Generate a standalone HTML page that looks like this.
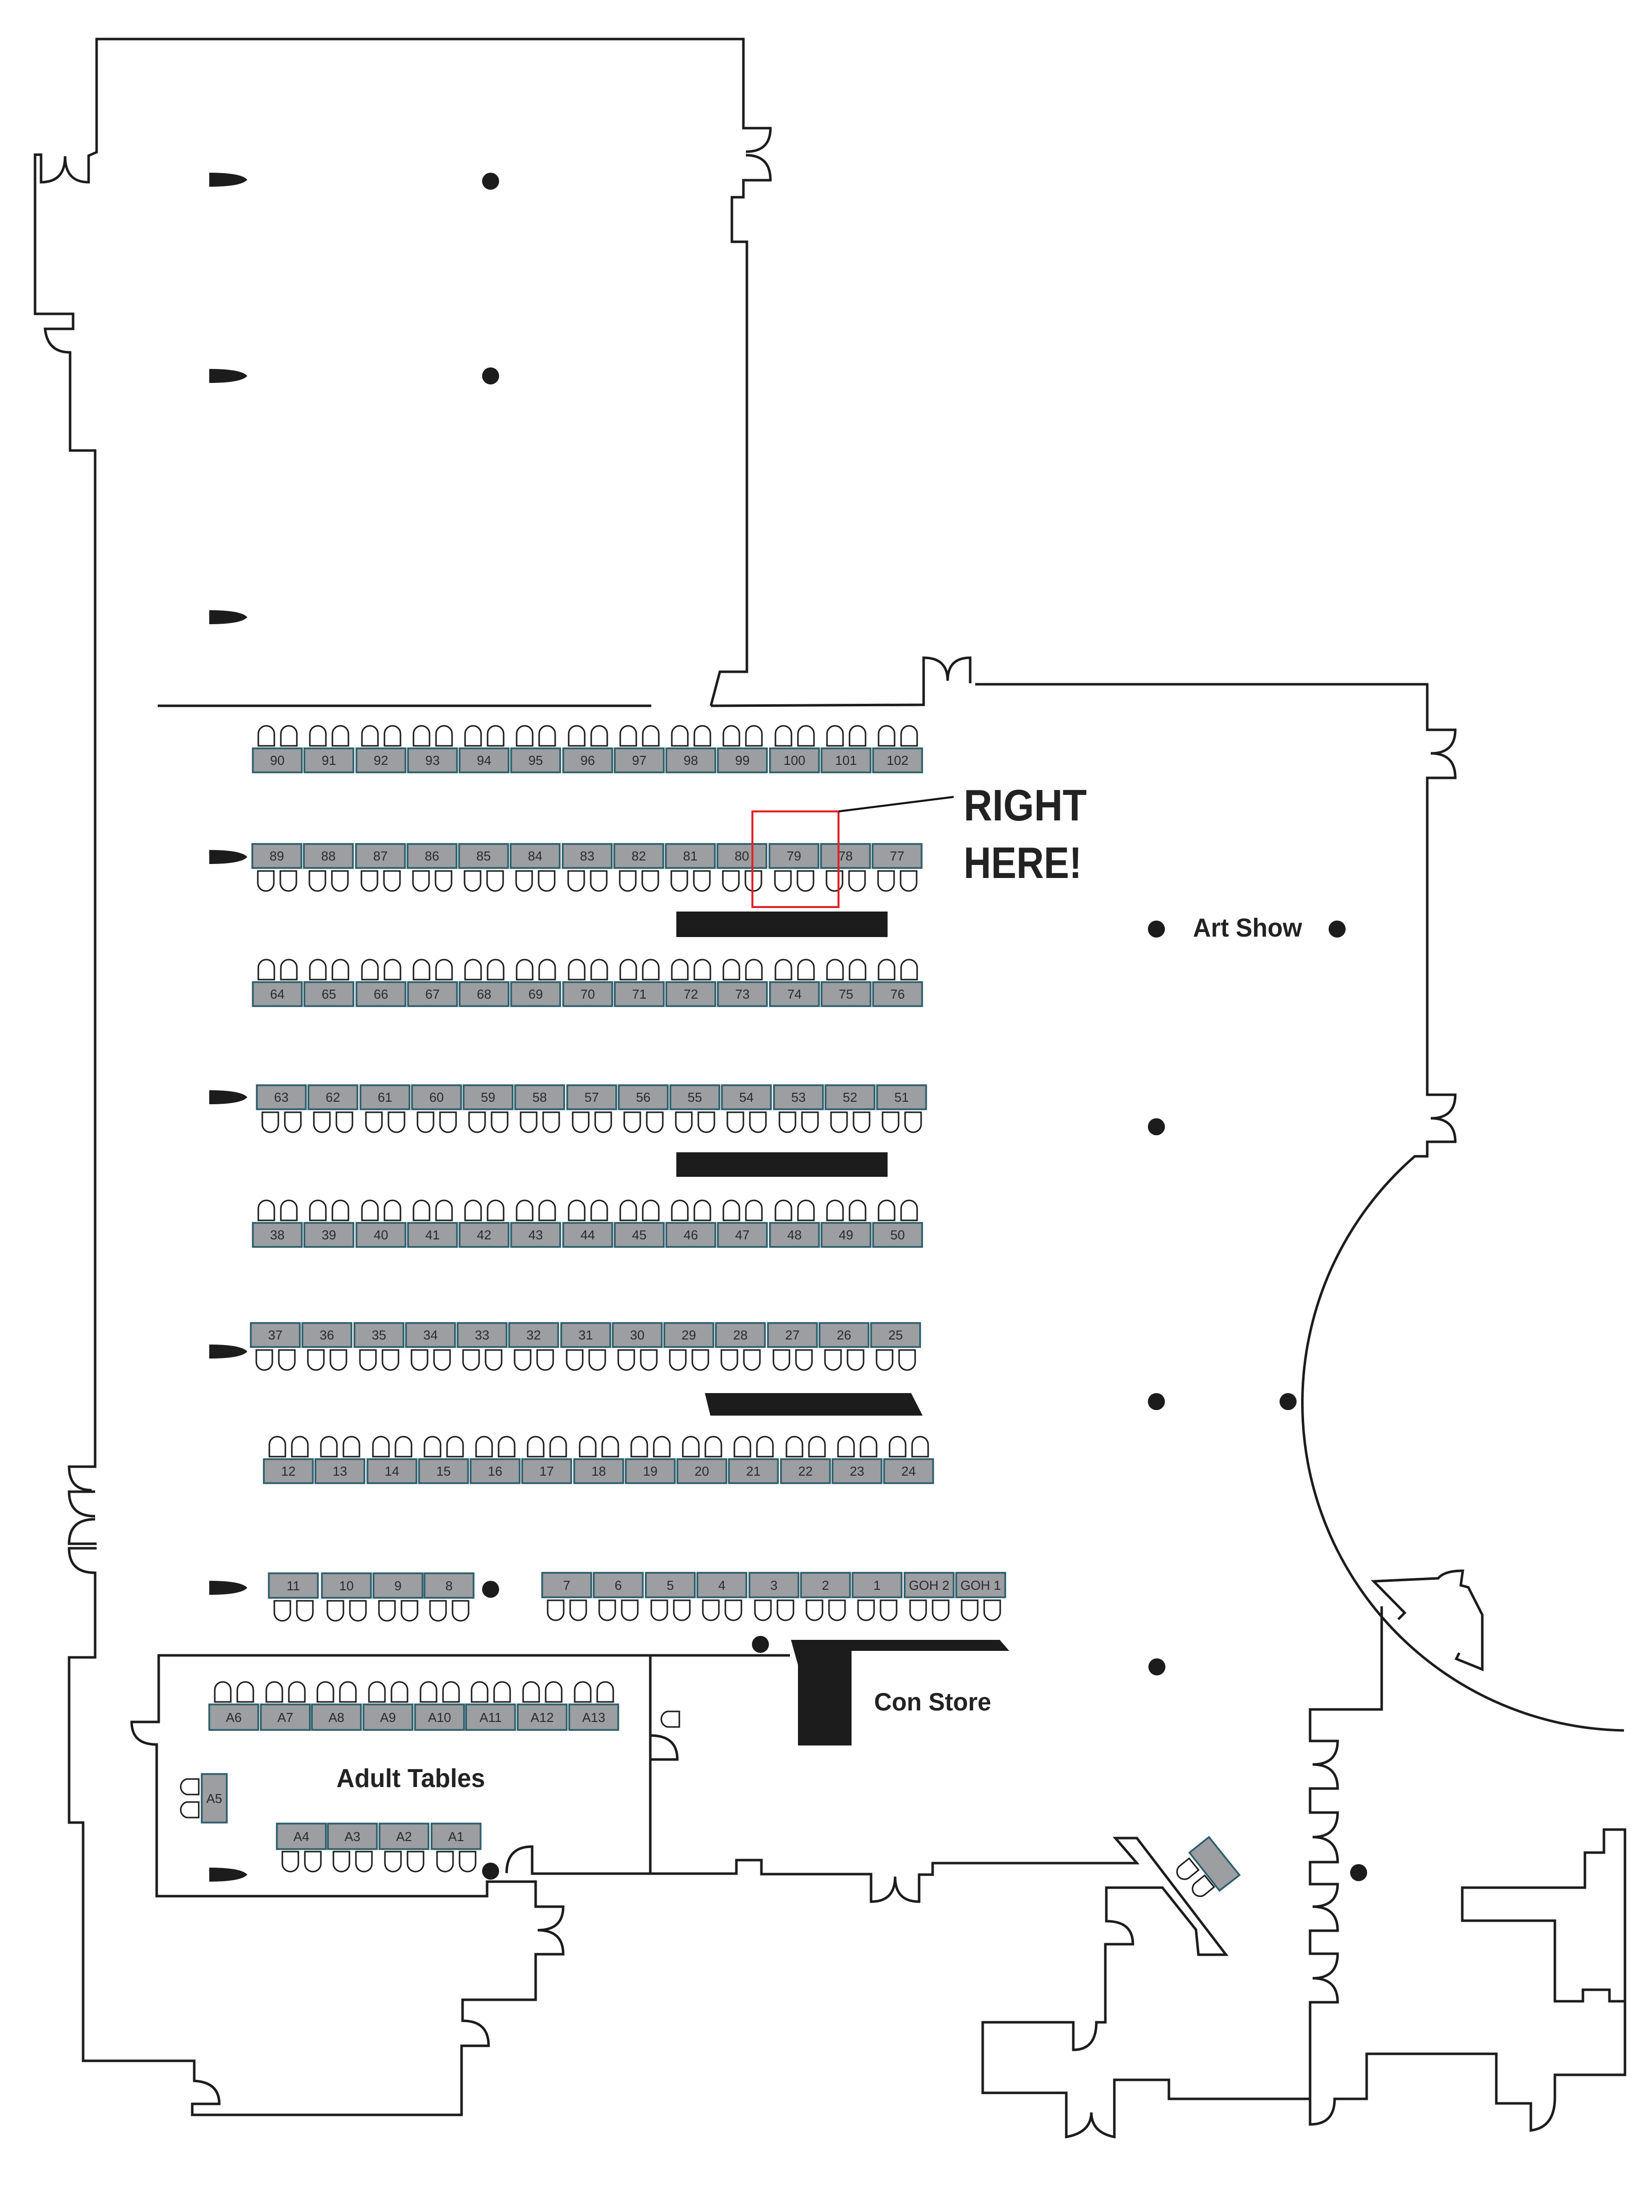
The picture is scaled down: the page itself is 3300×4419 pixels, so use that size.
<!DOCTYPE html>
<html><head><meta charset="utf-8"><style>
html,body{margin:0;padding:0;background:#fff}
svg{display:block}
.w{fill:none;stroke:#1c1c1c;stroke-width:5;stroke-linejoin:miter}
.t rect{fill:#9c9ea1;stroke:#2d5e6b;stroke-width:3.5}
.t text{font-family:"Liberation Sans",sans-serif;font-size:26px;fill:#2b2b2b;text-anchor:middle}
.c{fill:#fff;stroke:#1c1c1c;stroke-width:3}
.lbl{font-family:"Liberation Sans",sans-serif;font-weight:bold;fill:#222}
</style></head><body>
<svg width="3300" height="4419" viewBox="0 0 3300 4419" xmlns="http://www.w3.org/2000/svg">
<defs>
<g id="cu"><path class="c" d="M0,40 L0,16 A16,16 0 0 1 32,16 L32,40 Z"/><path class="c" d="M45,40 L45,16 A16,16 0 0 1 77,16 L77,40 Z"/></g>
<g id="cd"><path class="c" d="M0,0 L0,24 A16,16 0 0 0 32,24 L32,0 Z"/><path class="c" d="M45,0 L45,24 A16,16 0 0 0 77,24 L77,0 Z"/></g>
<path id="cl" class="c" d="M40,0 L16,0 A16,16 0 0 0 16,31 L40,31 Z"/>
<path id="pil" fill="#1c1c1c" d="M0,-14 C52,-14 70,-7 76,0 C70,7 52,14 0,14 Z"/>
</defs>

<!-- walls -->
<path class="w" d="M1420,1410 L1438,1342 L1492,1342 L1492,483 L1462,483 L1462,394 L1485,394 L1485,360 L1539,360 Q1539,310 1490,310 M1490,303 Q1539,303 1539,256 L1485,256 L1485,78 L193,78 L193,304 L177,311 L177,364 Q130,364 130,312 Q130,364 82,364 L82,309 L70,309 L70,627 L146,627 L146,657 L90,657 Q95,704 140,704 L140,900 L190,900 L190,2930 L138,2930 Q138,2977 183,2977 M190,2980 L138,2980 Q138,3029 190,3029 M190,3035 Q138,3035 138,3084 L193,3084 M193,3093 L138,3093 Q138,3142 190,3142 L190,3311 L138,3311 L138,3641 L166,3641 L166,4117 L388,4117 L388,4157 Q438,4160 438,4203 L384,4203 L384,4225 L922,4225 L922,4087 L976,4087 Q976,4037 924,4037 L924,3995 L1070,3995 L1070,3904 L1125,3904 Q1125,3856 1074,3856 Q1125,3856 1125,3809 L1070,3809 L1070,3759 L973,3759 L973,3788 L313,3788 L313,3485 Q263,3485 263,3440 L317,3440 L317,3307 L1578,3307"/>
<path class="w" d="M1420,1410 L1845,1408 L1845,1314 Q1893,1314 1893,1360 Q1893,1314 1938,1314 L1938,1365 M1948,1367 L2851,1367 L2851,1458 L2907,1458 Q2907,1505 2858,1505 Q2907,1505 2907,1554 L2851,1554 L2851,2187 L2907,2187 Q2907,2234 2858,2234 Q2907,2234 2907,2281 L2851,2281 L2851,2310 L2826,2310 A654,654 0 0 0 3244,3457"/>
<line class="w" x1="315" y1="1410" x2="1301" y2="1410"/>
<!-- adult room right wall + bottom corridor -->
<path class="w" d="M1299,3307 L1299,3743 M1299,3467 Q1353,3467 1353,3515 L1299,3515 M1012,3742 Q1012,3689 1063,3689 L1063,3743 L1471,3743 L1471,3716 L1521,3716 L1521,3744 L1740,3744 L1740,3799 Q1788,3799 1788,3749 Q1788,3799 1836,3799 L1836,3745 L1863,3745 L1863,3722 L2271,3722 L2228,3672 L2271,3672 L2449,3905 L2394,3905 L2389,3855 L2322,3771 L2210,3771 L2210,3838 Q2263,3838 2263,3884 L2208,3884 L2208,4040 L2190,4040 Q2190,4095 2144,4095 L2144,4040 L1963,4040 L1963,4181 L2130,4181 L2130,4269 Q2180,4260 2180,4220 Q2180,4260 2226,4269 L2226,4155 L2335,4155 L2335,4193 L2617,4193"/>
<!-- right lower building -->
<path class="w" d="M2760,3209 L2760,3415 L2617,3415 L2617,3478 L2672,3478 Q2672,3525 2622,3525 Q2672,3525 2672,3573 L2617,3573 L2617,3621 L2672,3621 Q2672,3670 2622,3670 Q2672,3670 2672,3720 L2617,3720 L2617,3764 L2672,3764 Q2672,3809 2622,3809 Q2672,3809 2672,3857 L2617,3857 L2617,3903 L2672,3903 Q2672,3952 2622,3952 Q2672,3952 2672,4000 L2617,4000 L2617,4244 Q2666,4244 2666,4193 L2730,4193 L2730,4103 L2989,4103 L2989,4202 L3058,4202 L3058,4256 Q3106,4250 3106,4190 L3106,4145 L3246,4145 L3246,3655 L3204,3655 L3204,3701 L3166,3701 L3166,3771 L2921,3771 L2921,3837 L3106,3837 L3106,3998 L3162,3998 L3162,3975 L3215,3975 L3215,3998 L3246,3998"/>
<path class="w" d="M2793,3235 L2806,3222 L2744,3159 L2873,3153 Q2885,3138 2922,3138 L2918,3167 L2933,3171 L2961,3226 L2961,3335 L2909,3314 L2915,3302"/>

<!-- pillars -->
<use href="#pil" x="418" y="359"/><use href="#pil" x="418" y="751"/><use href="#pil" x="418" y="1233"/>
<use href="#pil" x="418" y="1712"/><use href="#pil" x="418" y="2192"/><use href="#pil" x="418" y="2700"/>
<use href="#pil" x="418" y="3172"/><use href="#pil" x="418" y="3745"/>
<!-- dots -->
<g fill="#1c1c1c">
<circle cx="980" cy="362" r="17"/><circle cx="980" cy="751" r="17"/>
<circle cx="2310" cy="1856" r="17"/><circle cx="2671" cy="1856" r="17"/>
<circle cx="2310" cy="2251" r="17"/><circle cx="2310" cy="2800" r="17"/><circle cx="2573" cy="2800" r="17"/>
<circle cx="2311" cy="3330" r="17"/><circle cx="980" cy="3175" r="17"/><circle cx="1519" cy="3285" r="17"/>
<circle cx="980" cy="3738" r="17"/><circle cx="2714" cy="3741" r="17"/>
</g>
<!-- black bars -->
<rect x="1351" y="1821" width="422" height="51" fill="#1c1c1c"/>
<rect x="1351" y="2302" width="422" height="49" fill="#1c1c1c"/>
<polygon points="1408,2783 1820,2783 1843,2828 1419,2828" fill="#1c1c1c"/>
<polygon points="1580,3276 1997,3276 2016,3298 1701,3298 1701,3487 1594,3487 1594,3326" fill="#1c1c1c"/>

<!-- Row A 90-102 -->
<g class="t">
<g transform="translate(505,1495)"><rect width="98" height="48"/><text x="49" y="33">90</text></g>
<g transform="translate(608,1495)"><rect width="98" height="48"/><text x="49" y="33">91</text></g>
<g transform="translate(712,1495)"><rect width="98" height="48"/><text x="49" y="33">92</text></g>
<g transform="translate(815,1495)"><rect width="98" height="48"/><text x="49" y="33">93</text></g>
<g transform="translate(918,1495)"><rect width="98" height="48"/><text x="49" y="33">94</text></g>
<g transform="translate(1021,1495)"><rect width="98" height="48"/><text x="49" y="33">95</text></g>
<g transform="translate(1125,1495)"><rect width="98" height="48"/><text x="49" y="33">96</text></g>
<g transform="translate(1228,1495)"><rect width="98" height="48"/><text x="49" y="33">97</text></g>
<g transform="translate(1331,1495)"><rect width="98" height="48"/><text x="49" y="33">98</text></g>
<g transform="translate(1434,1495)"><rect width="98" height="48"/><text x="49" y="33">99</text></g>
<g transform="translate(1538,1495)"><rect width="98" height="48"/><text x="49" y="33">100</text></g>
<g transform="translate(1641,1495)"><rect width="98" height="48"/><text x="49" y="33">101</text></g>
<g transform="translate(1744,1495)"><rect width="98" height="48"/><text x="49" y="33">102</text></g>
</g>
<g>
<use href="#cu" x="516" y="1450"/><use href="#cu" x="619" y="1450"/><use href="#cu" x="723" y="1450"/><use href="#cu" x="826" y="1450"/><use href="#cu" x="929" y="1450"/><use href="#cu" x="1032" y="1450"/><use href="#cu" x="1136" y="1450"/><use href="#cu" x="1239" y="1450"/><use href="#cu" x="1342" y="1450"/><use href="#cu" x="1445" y="1450"/><use href="#cu" x="1549" y="1450"/><use href="#cu" x="1652" y="1450"/><use href="#cu" x="1755" y="1450"/>
</g>

<!-- Row B 89-77 -->
<g class="t">
<g transform="translate(504,1686)"><rect width="98" height="48"/><text x="49" y="33">89</text></g>
<g transform="translate(607,1686)"><rect width="98" height="48"/><text x="49" y="33">88</text></g>
<g transform="translate(711,1686)"><rect width="98" height="48"/><text x="49" y="33">87</text></g>
<g transform="translate(814,1686)"><rect width="98" height="48"/><text x="49" y="33">86</text></g>
<g transform="translate(917,1686)"><rect width="98" height="48"/><text x="49" y="33">85</text></g>
<g transform="translate(1020,1686)"><rect width="98" height="48"/><text x="49" y="33">84</text></g>
<g transform="translate(1124,1686)"><rect width="98" height="48"/><text x="49" y="33">83</text></g>
<g transform="translate(1227,1686)"><rect width="98" height="48"/><text x="49" y="33">82</text></g>
<g transform="translate(1330,1686)"><rect width="98" height="48"/><text x="49" y="33">81</text></g>
<g transform="translate(1433,1686)"><rect width="98" height="48"/><text x="49" y="33">80</text></g>
<g transform="translate(1537,1686)"><rect width="98" height="48"/><text x="49" y="33">79</text></g>
<g transform="translate(1640,1686)"><rect width="98" height="48"/><text x="49" y="33">78</text></g>
<g transform="translate(1743,1686)"><rect width="98" height="48"/><text x="49" y="33">77</text></g>
</g>
<g>
<use href="#cd" x="515" y="1740"/><use href="#cd" x="618" y="1740"/><use href="#cd" x="722" y="1740"/><use href="#cd" x="825" y="1740"/><use href="#cd" x="928" y="1740"/><use href="#cd" x="1031" y="1740"/><use href="#cd" x="1135" y="1740"/><use href="#cd" x="1238" y="1740"/><use href="#cd" x="1341" y="1740"/><use href="#cd" x="1444" y="1740"/><use href="#cd" x="1548" y="1740"/><use href="#cd" x="1651" y="1740"/><use href="#cd" x="1754" y="1740"/>
</g>

<!-- Row C 64-76 -->
<g class="t">
<g transform="translate(505,1962)"><rect width="98" height="48"/><text x="49" y="33">64</text></g>
<g transform="translate(608,1962)"><rect width="98" height="48"/><text x="49" y="33">65</text></g>
<g transform="translate(712,1962)"><rect width="98" height="48"/><text x="49" y="33">66</text></g>
<g transform="translate(815,1962)"><rect width="98" height="48"/><text x="49" y="33">67</text></g>
<g transform="translate(918,1962)"><rect width="98" height="48"/><text x="49" y="33">68</text></g>
<g transform="translate(1021,1962)"><rect width="98" height="48"/><text x="49" y="33">69</text></g>
<g transform="translate(1125,1962)"><rect width="98" height="48"/><text x="49" y="33">70</text></g>
<g transform="translate(1228,1962)"><rect width="98" height="48"/><text x="49" y="33">71</text></g>
<g transform="translate(1331,1962)"><rect width="98" height="48"/><text x="49" y="33">72</text></g>
<g transform="translate(1434,1962)"><rect width="98" height="48"/><text x="49" y="33">73</text></g>
<g transform="translate(1538,1962)"><rect width="98" height="48"/><text x="49" y="33">74</text></g>
<g transform="translate(1641,1962)"><rect width="98" height="48"/><text x="49" y="33">75</text></g>
<g transform="translate(1744,1962)"><rect width="98" height="48"/><text x="49" y="33">76</text></g>
</g>
<g>
<use href="#cu" x="516" y="1917"/><use href="#cu" x="619" y="1917"/><use href="#cu" x="723" y="1917"/><use href="#cu" x="826" y="1917"/><use href="#cu" x="929" y="1917"/><use href="#cu" x="1032" y="1917"/><use href="#cu" x="1136" y="1917"/><use href="#cu" x="1239" y="1917"/><use href="#cu" x="1342" y="1917"/><use href="#cu" x="1445" y="1917"/><use href="#cu" x="1549" y="1917"/><use href="#cu" x="1652" y="1917"/><use href="#cu" x="1755" y="1917"/>
</g>

<!-- Row D 63-51 -->
<g class="t">
<g transform="translate(513,2168)"><rect width="98" height="48"/><text x="49" y="33">63</text></g>
<g transform="translate(616,2168)"><rect width="98" height="48"/><text x="49" y="33">62</text></g>
<g transform="translate(720,2168)"><rect width="98" height="48"/><text x="49" y="33">61</text></g>
<g transform="translate(823,2168)"><rect width="98" height="48"/><text x="49" y="33">60</text></g>
<g transform="translate(926,2168)"><rect width="98" height="48"/><text x="49" y="33">59</text></g>
<g transform="translate(1029,2168)"><rect width="98" height="48"/><text x="49" y="33">58</text></g>
<g transform="translate(1133,2168)"><rect width="98" height="48"/><text x="49" y="33">57</text></g>
<g transform="translate(1236,2168)"><rect width="98" height="48"/><text x="49" y="33">56</text></g>
<g transform="translate(1339,2168)"><rect width="98" height="48"/><text x="49" y="33">55</text></g>
<g transform="translate(1442,2168)"><rect width="98" height="48"/><text x="49" y="33">54</text></g>
<g transform="translate(1546,2168)"><rect width="98" height="48"/><text x="49" y="33">53</text></g>
<g transform="translate(1649,2168)"><rect width="98" height="48"/><text x="49" y="33">52</text></g>
<g transform="translate(1752,2168)"><rect width="98" height="48"/><text x="49" y="33">51</text></g>
</g>
<g>
<use href="#cd" x="524" y="2222"/><use href="#cd" x="627" y="2222"/><use href="#cd" x="731" y="2222"/><use href="#cd" x="834" y="2222"/><use href="#cd" x="937" y="2222"/><use href="#cd" x="1040" y="2222"/><use href="#cd" x="1144" y="2222"/><use href="#cd" x="1247" y="2222"/><use href="#cd" x="1350" y="2222"/><use href="#cd" x="1453" y="2222"/><use href="#cd" x="1557" y="2222"/><use href="#cd" x="1660" y="2222"/><use href="#cd" x="1763" y="2222"/>
</g>

<!-- Row E 38-50 -->
<g class="t">
<g transform="translate(505,2443)"><rect width="98" height="48"/><text x="49" y="33">38</text></g>
<g transform="translate(608,2443)"><rect width="98" height="48"/><text x="49" y="33">39</text></g>
<g transform="translate(712,2443)"><rect width="98" height="48"/><text x="49" y="33">40</text></g>
<g transform="translate(815,2443)"><rect width="98" height="48"/><text x="49" y="33">41</text></g>
<g transform="translate(918,2443)"><rect width="98" height="48"/><text x="49" y="33">42</text></g>
<g transform="translate(1021,2443)"><rect width="98" height="48"/><text x="49" y="33">43</text></g>
<g transform="translate(1125,2443)"><rect width="98" height="48"/><text x="49" y="33">44</text></g>
<g transform="translate(1228,2443)"><rect width="98" height="48"/><text x="49" y="33">45</text></g>
<g transform="translate(1331,2443)"><rect width="98" height="48"/><text x="49" y="33">46</text></g>
<g transform="translate(1434,2443)"><rect width="98" height="48"/><text x="49" y="33">47</text></g>
<g transform="translate(1538,2443)"><rect width="98" height="48"/><text x="49" y="33">48</text></g>
<g transform="translate(1641,2443)"><rect width="98" height="48"/><text x="49" y="33">49</text></g>
<g transform="translate(1744,2443)"><rect width="98" height="48"/><text x="49" y="33">50</text></g>
</g>
<g>
<use href="#cu" x="516" y="2398"/><use href="#cu" x="619" y="2398"/><use href="#cu" x="723" y="2398"/><use href="#cu" x="826" y="2398"/><use href="#cu" x="929" y="2398"/><use href="#cu" x="1032" y="2398"/><use href="#cu" x="1136" y="2398"/><use href="#cu" x="1239" y="2398"/><use href="#cu" x="1342" y="2398"/><use href="#cu" x="1445" y="2398"/><use href="#cu" x="1549" y="2398"/><use href="#cu" x="1652" y="2398"/><use href="#cu" x="1755" y="2398"/>
</g>

<!-- Row F 37-25 -->
<g class="t">
<g transform="translate(501,2643)"><rect width="98" height="48"/><text x="49" y="33">37</text></g>
<g transform="translate(604,2643)"><rect width="98" height="48"/><text x="49" y="33">36</text></g>
<g transform="translate(708,2643)"><rect width="98" height="48"/><text x="49" y="33">35</text></g>
<g transform="translate(811,2643)"><rect width="98" height="48"/><text x="49" y="33">34</text></g>
<g transform="translate(914,2643)"><rect width="98" height="48"/><text x="49" y="33">33</text></g>
<g transform="translate(1017,2643)"><rect width="98" height="48"/><text x="49" y="33">32</text></g>
<g transform="translate(1121,2643)"><rect width="98" height="48"/><text x="49" y="33">31</text></g>
<g transform="translate(1224,2643)"><rect width="98" height="48"/><text x="49" y="33">30</text></g>
<g transform="translate(1327,2643)"><rect width="98" height="48"/><text x="49" y="33">29</text></g>
<g transform="translate(1430,2643)"><rect width="98" height="48"/><text x="49" y="33">28</text></g>
<g transform="translate(1534,2643)"><rect width="98" height="48"/><text x="49" y="33">27</text></g>
<g transform="translate(1637,2643)"><rect width="98" height="48"/><text x="49" y="33">26</text></g>
<g transform="translate(1740,2643)"><rect width="98" height="48"/><text x="49" y="33">25</text></g>
</g>
<g>
<use href="#cd" x="512" y="2697"/><use href="#cd" x="615" y="2697"/><use href="#cd" x="719" y="2697"/><use href="#cd" x="822" y="2697"/><use href="#cd" x="925" y="2697"/><use href="#cd" x="1028" y="2697"/><use href="#cd" x="1132" y="2697"/><use href="#cd" x="1235" y="2697"/><use href="#cd" x="1338" y="2697"/><use href="#cd" x="1441" y="2697"/><use href="#cd" x="1545" y="2697"/><use href="#cd" x="1648" y="2697"/><use href="#cd" x="1751" y="2697"/>
</g>

<!-- Row G 12-24 -->
<g class="t">
<g transform="translate(527,2915)"><rect width="98" height="48"/><text x="49" y="33">12</text></g>
<g transform="translate(630,2915)"><rect width="98" height="48"/><text x="49" y="33">13</text></g>
<g transform="translate(734,2915)"><rect width="98" height="48"/><text x="49" y="33">14</text></g>
<g transform="translate(837,2915)"><rect width="98" height="48"/><text x="49" y="33">15</text></g>
<g transform="translate(940,2915)"><rect width="98" height="48"/><text x="49" y="33">16</text></g>
<g transform="translate(1043,2915)"><rect width="98" height="48"/><text x="49" y="33">17</text></g>
<g transform="translate(1147,2915)"><rect width="98" height="48"/><text x="49" y="33">18</text></g>
<g transform="translate(1250,2915)"><rect width="98" height="48"/><text x="49" y="33">19</text></g>
<g transform="translate(1353,2915)"><rect width="98" height="48"/><text x="49" y="33">20</text></g>
<g transform="translate(1456,2915)"><rect width="98" height="48"/><text x="49" y="33">21</text></g>
<g transform="translate(1560,2915)"><rect width="98" height="48"/><text x="49" y="33">22</text></g>
<g transform="translate(1663,2915)"><rect width="98" height="48"/><text x="49" y="33">23</text></g>
<g transform="translate(1766,2915)"><rect width="98" height="48"/><text x="49" y="33">24</text></g>
</g>
<g>
<use href="#cu" x="538" y="2870"/><use href="#cu" x="641" y="2870"/><use href="#cu" x="745" y="2870"/><use href="#cu" x="848" y="2870"/><use href="#cu" x="951" y="2870"/><use href="#cu" x="1054" y="2870"/><use href="#cu" x="1158" y="2870"/><use href="#cu" x="1261" y="2870"/><use href="#cu" x="1364" y="2870"/><use href="#cu" x="1467" y="2870"/><use href="#cu" x="1571" y="2870"/><use href="#cu" x="1674" y="2870"/><use href="#cu" x="1777" y="2870"/>
</g>

<!-- Row H 11-8 and Row I 7..GOH1 -->
<g class="t">
<g transform="translate(537,3143)"><rect width="98" height="49"/><text x="49" y="34">11</text></g>
<g transform="translate(643,3143)"><rect width="98" height="49"/><text x="49" y="34">10</text></g>
<g transform="translate(746,3143)"><rect width="98" height="49"/><text x="49" y="34">9</text></g>
<g transform="translate(848,3143)"><rect width="98" height="49"/><text x="49" y="34">8</text></g>
<g transform="translate(1083,3142)"><rect width="98" height="49"/><text x="49" y="34">7</text></g>
<g transform="translate(1186,3142)"><rect width="98" height="49"/><text x="49" y="34">6</text></g>
<g transform="translate(1290,3142)"><rect width="98" height="49"/><text x="49" y="34">5</text></g>
<g transform="translate(1393,3142)"><rect width="98" height="49"/><text x="49" y="34">4</text></g>
<g transform="translate(1497,3142)"><rect width="98" height="49"/><text x="49" y="34">3</text></g>
<g transform="translate(1600,3142)"><rect width="98" height="49"/><text x="49" y="34">2</text></g>
<g transform="translate(1703,3142)"><rect width="98" height="49"/><text x="49" y="34">1</text></g>
<g transform="translate(1807,3142)"><rect width="98" height="49"/><text x="49" y="34">GOH 2</text></g>
<g transform="translate(1910,3142)"><rect width="98" height="49"/><text x="49" y="34">GOH 1</text></g>
</g>
<g>
<use href="#cd" x="548" y="3198"/><use href="#cd" x="654" y="3198"/><use href="#cd" x="757" y="3198"/><use href="#cd" x="859" y="3198"/>
<use href="#cd" x="1094" y="3197"/><use href="#cd" x="1197" y="3197"/><use href="#cd" x="1301" y="3197"/><use href="#cd" x="1404" y="3197"/><use href="#cd" x="1508" y="3197"/><use href="#cd" x="1611" y="3197"/><use href="#cd" x="1714" y="3197"/><use href="#cd" x="1818" y="3197"/><use href="#cd" x="1921" y="3197"/>
</g>

<!-- Adult tables -->
<g class="t">
<g transform="translate(418,3405)"><rect width="98" height="51"/><text x="49" y="35">A6</text></g>
<g transform="translate(521,3405)"><rect width="98" height="51"/><text x="49" y="35">A7</text></g>
<g transform="translate(623,3405)"><rect width="98" height="51"/><text x="49" y="35">A8</text></g>
<g transform="translate(726,3405)"><rect width="98" height="51"/><text x="49" y="35">A9</text></g>
<g transform="translate(829,3405)"><rect width="98" height="51"/><text x="49" y="35">A10</text></g>
<g transform="translate(931,3405)"><rect width="98" height="51"/><text x="49" y="35">A11</text></g>
<g transform="translate(1034,3405)"><rect width="98" height="51"/><text x="49" y="35">A12</text></g>
<g transform="translate(1137,3405)"><rect width="98" height="51"/><text x="49" y="35">A13</text></g>
<g transform="translate(553,3643)"><rect width="98" height="51"/><text x="49" y="35">A4</text></g>
<g transform="translate(655,3643)"><rect width="98" height="51"/><text x="49" y="35">A3</text></g>
<g transform="translate(758,3643)"><rect width="98" height="51"/><text x="49" y="35">A2</text></g>
<g transform="translate(862,3643)"><rect width="98" height="51"/><text x="49" y="35">A1</text></g>
<g transform="translate(403,3544)"><rect width="50" height="97"/><text x="25" y="58">A5</text></g>
</g>
<g>
<use href="#cu" x="429" y="3360"/><use href="#cu" x="532" y="3360"/><use href="#cu" x="634" y="3360"/><use href="#cu" x="737" y="3360"/><use href="#cu" x="840" y="3360"/><use href="#cu" x="942" y="3360"/><use href="#cu" x="1045" y="3360"/><use href="#cu" x="1148" y="3360"/>
<use href="#cd" x="564" y="3699"/><use href="#cd" x="666" y="3699"/><use href="#cd" x="769" y="3699"/><use href="#cd" x="873" y="3699"/>
<use href="#cl" x="357" y="3554"/><use href="#cl" x="357" y="3600"/>
<use href="#cl" x="1317" y="3419"/>
</g>

<!-- rotated table near stairs -->
<polygon points="2376,3701 2415,3670 2476,3746 2436,3777" fill="#9c9ea1" stroke="#2d5e6b" stroke-width="3.5"/>
<g transform="translate(2373,3735) rotate(-39)"><path class="c" d="M16,-16 L-8,-16 A15,15 0 0 0 -8,14 L16,14 Z"/></g>
<g transform="translate(2404,3769) rotate(-39)"><path class="c" d="M16,-16 L-8,-16 A15,15 0 0 0 -8,14 L16,14 Z"/></g>

<!-- labels -->
<text class="lbl" x="2383" y="1871" font-size="52" textLength="218" lengthAdjust="spacingAndGlyphs">Art Show</text>
<text class="lbl" x="1746" y="3417" font-size="50" textLength="234" lengthAdjust="spacingAndGlyphs">Con Store</text>
<text class="lbl" x="672" y="3570" font-size="52" textLength="297" lengthAdjust="spacingAndGlyphs">Adult Tables</text>
<text class="lbl" x="1925" y="1639" font-size="88" fill="#000" textLength="246" lengthAdjust="spacingAndGlyphs">RIGHT</text>
<text class="lbl" x="1925" y="1754" font-size="88" fill="#000" textLength="236" lengthAdjust="spacingAndGlyphs">HERE!</text>

<!-- red highlight -->
<rect x="1503" y="1621" width="172" height="191" fill="none" stroke="#e02228" stroke-width="4"/>
<line x1="1675" y1="1621" x2="1905" y2="1592" stroke="#111" stroke-width="4"/>
</svg>
</body></html>
